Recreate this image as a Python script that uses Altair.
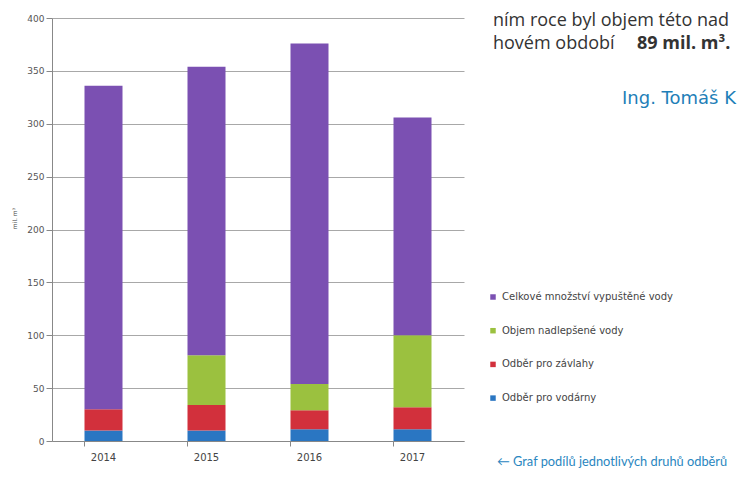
import altair as alt
import pandas as pd

years = ["2014", "2015", "2016", "2017"]
series = ["Odběr pro vodárny", "Odběr pro závlahy", "Objem nadlepšené vody", "Celkové množství vypuštěné vody"]
vodarny = [10, 10, 11, 11]
zavlahy = [20, 24, 18, 21]
nadlepsene = [0, 47, 25, 68]
vypustene = [306, 273, 322, 206]
colors = ["#2a76c2", "#d2303c", "#9bc13f", "#7b50b2"]

rows = []
for i, y in enumerate(years):
    for k, (name, vals) in enumerate(zip(series, [vodarny, zavlahy, nadlepsene, vypustene])):
        rows.append({"rok": y, "serie": name, "hodnota": vals[i], "poradi": k})
df = pd.DataFrame(rows)

W, H = 412, 423

bars = alt.Chart(df).mark_bar(size=38).encode(
    x=alt.X("rok:N", title=None, scale=alt.Scale(paddingInner=0.63, paddingOuter=0.315),
            axis=alt.Axis(labelAngle=0, labelFontSize=10, labelColor="#444", labelPadding=6,
                          tickColor="#888", tickSize=5, domainColor="#888", bandPosition=0,
                          labelFont="DejaVu Sans")),
    y=alt.Y("hodnota:Q", title="mil. m³", stack="zero",
            scale=alt.Scale(domain=[0, 400]),
            axis=alt.Axis(values=list(range(0, 401, 50)), labelFontSize=9, labelColor="#555",
                          tickColor="#888", tickSize=6, domainColor="#888", gridColor="#a8a8a8",
                          titleFontSize=6, titleColor="#444", titleX=-35, titleY=200,
                          titleAlign="center",
                          labelFont="DejaVu Sans", titleFont="DejaVu Sans", titleFontWeight="normal")),
    color=alt.Color("serie:N", sort=series[::-1],
                    scale=alt.Scale(domain=series[::-1], range=colors[::-1]),
                    legend=alt.Legend(title=None, orient="none", legendX=436, legendY=274,
                                      symbolType="square", symbolSize=30, symbolStrokeWidth=0,
                                      labelFontSize=10, labelColor="#444", rowPadding=23.7,
                                      labelLimit=0, labelFont="DejaVu Sans")),
    order=alt.Order("poradi:Q", sort="ascending"),
)

one = pd.DataFrame({"a": [0]})

def txt(text, x, y, size, color="#333", weight="normal", font="Open Sans", align="left"):
    return alt.Chart(one).mark_text(align=align, baseline="alphabetic", fontSize=size,
                                    font=font, fontWeight=weight, color=color).encode(
        x=alt.value(x), y=alt.value(y), text=alt.value(text))

ann = [
    txt("ním roce byl objem této nad", 441, 8, 18),
    txt("hovém období", 441, 31, 18),
    txt("89 mil. m³.", 585, 31, 18, weight="bold"),
    txt("Ing. Tomáš K", 570, 86, 18, color="#1f7fb8", font="DejaVu Sans"),
    txt("← Graf podílů jednotlivých druhů odběrů", 445, 448, 12.8, color="#2a86c0", font="Lato"),
]

chart = alt.layer(bars, *ann).properties(
    width=W, height=H,
    autosize=alt.AutoSizeParams(type="none"),
    padding={"left": 44, "top": 10, "right": 276, "bottom": 43},
).configure_view(stroke=None).configure_axisX(grid=False)

chart.save("out.html", embed_options={"renderer": "svg", "actions": False})
